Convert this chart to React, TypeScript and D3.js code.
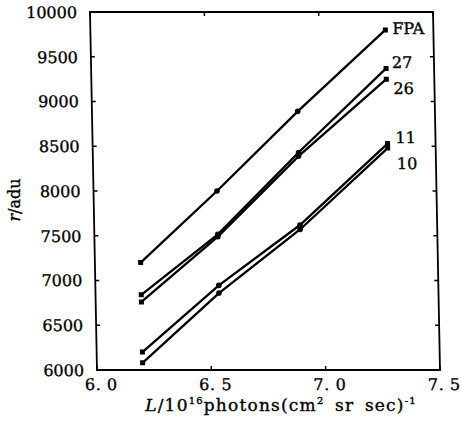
import React from "react";
import * as d3 from "d3";

const xValues = [6.2, 6.54, 6.9, 7.29];
const seriesNames = ["FPA", "27", "26", "11", "10"];
const fpa = [7200, 8000, 8890, 9800];
const s27 = [6840, 7515, 8430, 9370];
const s26 = [6760, 7490, 8390, 9250];
const s11 = [6200, 6945, 7620, 8530];
const s10 = [6080, 6860, 7570, 8480];
const seriesValues = [fpa, s27, s26, s11, s10];
const yTicks = [6000, 6500, 7000, 7500, 8000, 8500, 9000, 9500, 10000];
const xTicks = [6.0, 6.5, 7.0, 7.5];
const xTickLabels = ["6. 0", "6. 5", "7. 0", "7. 5"];

const W = 461;
const H = 435;
const L = 97, R = 440, T = 12, B = 370;

export default function App() {
  const x = d3.scaleLinear().domain([6, 7.5]).range([L, R]);
  const y = d3.scaleLinear().domain([6000, 10000]).range([B, T]);
  const line = d3
    .line<number>()
    .x((_, i) => x(xValues[i]))
    .y((d) => y(d));
  const font = "'DejaVu Serif', 'Liberation Serif', serif";
  const labelDy = [4, -0.5, 15, -0.6, 21];
  const labelDx = [7, 6, 7, 8, 9];
  const txt = { fontFamily: font, fill: "#000", stroke: "#000", strokeWidth: 0.35 };
  return (
    <svg
      width={W}
      height={H}
      style={{ position: "absolute", left: 0, top: 0, background: "#fff" }}
    >
      <g transform={`translate(0,${B}) skewX(1.12) translate(0,${-B})`}>
        <rect
          x={L}
          y={T}
          width={R - L}
          height={B - T}
          fill="none"
          stroke="#000"
          strokeWidth={1.8}
        />
        {yTicks.map((t) => (
          <g key={"y" + t}>
            <line x1={L} x2={L + 4} y1={y(t)} y2={y(t)} stroke="#000" strokeWidth={1.5} />
            <line x1={R} x2={R - 4} y1={y(t)} y2={y(t)} stroke="#000" strokeWidth={1.5} />
            <text x={L - 13} y={y(t) + 6} textAnchor="end" fontSize={16} {...txt}>
              {t}
            </text>
          </g>
        ))}
        {xTicks.map((t, i) => (
          <g key={"x" + t}>
            <line x1={x(t)} x2={x(t)} y1={B} y2={B - 4} stroke="#000" strokeWidth={1.5} />
            <line x1={x(t)} x2={x(t)} y1={T} y2={T + 4} stroke="#000" strokeWidth={1.5} />
            <text
              x={x(t) + 4}
              y={B + 20}
              textAnchor="middle"
              fontSize={16}
              letterSpacing={0.6}
              {...txt}
            >
              {xTickLabels[i]}
            </text>
          </g>
        ))}
        {seriesValues.map((vals, si) => (
          <g key={seriesNames[si]}>
            <path d={line(vals) || ""} fill="none" stroke="#000" strokeWidth={2.3} />
            {vals.map((v, i) =>
              i === 0 || i === vals.length - 1 ? (
                <rect
                  key={i}
                  x={x(xValues[i]) - 2.5}
                  y={y(v) - 2.5}
                  width={5}
                  height={5}
                  fill="#000"
                />
              ) : (
                <circle key={i} cx={x(xValues[i])} cy={y(v)} r={2.8} fill="#000" />
              )
            )}
            <text
              x={x(xValues[vals.length - 1]) + labelDx[si]}
              y={y(vals[vals.length - 1]) + labelDy[si]}
              fontSize={16}
              {...txt}
            >
              {seriesNames[si]}
            </text>
          </g>
        ))}
      </g>
      <text
        transform={`translate(20,200) rotate(-90)`}
        textAnchor="middle"
        fontSize={16}
        {...txt}
      >
        <tspan fontStyle="italic">r</tspan>/adu
      </text>
      <text
        x={281}
        y={411}
        textAnchor="middle"
        fontSize={17}
        letterSpacing={1.2}
        wordSpacing={4}
        {...txt}
      >
        <tspan fontStyle="italic">L</tspan>/10
        <tspan fontSize={10} dy={-7}>16</tspan>
        <tspan dy={7}>photons(cm</tspan>
        <tspan fontSize={10} dy={-7}>2</tspan>
        <tspan dy={7}> sr sec)</tspan>
        <tspan fontSize={10} dy={-7}>-1</tspan>
      </text>
    </svg>
  );
}
